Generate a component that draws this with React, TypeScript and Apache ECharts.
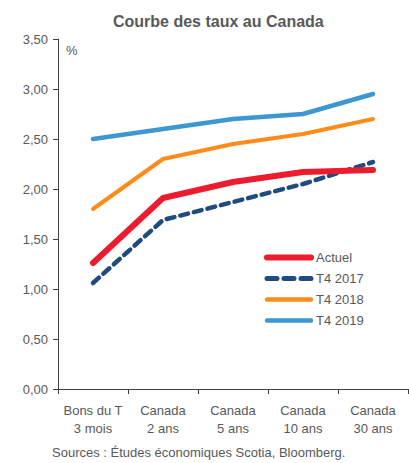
import React, { useEffect, useRef } from "react";
import * as echarts from "echarts";

const categories = ["Bons du T\n3 mois", "Canada\n2 ans", "Canada\n5 ans", "Canada\n10 ans", "Canada\n30 ans"];
const actuel = [1.26, 1.91, 2.07, 2.17, 2.19];
const t42017 = [1.06, 1.69, 1.87, 2.05, 2.27];
const t42018 = [1.8, 2.3, 2.45, 2.55, 2.7];
const t42019 = [2.5, 2.6, 2.7, 2.75, 2.95];

const TXT = "#595959";
const FONT = "'Liberation Sans', Arial, sans-serif";

export default function App() {
  const ref = useRef<HTMLDivElement>(null);
  useEffect(() => {
    document.body.style.margin = "0";
    const chart = echarts.init(ref.current!, undefined, { renderer: "svg" });
    const mk = (name: string, data: number[], color: string, width: number, type: any) => ({
      name,
      type: "line",
      data,
      symbol: "none",
      lineStyle: { color, width, type, cap: "round" },
      itemStyle: { color },
      z: 2,
    });
    chart.setOption({
      animation: false,
      textStyle: { fontFamily: FONT },
      title: {
        text: "Courbe des taux au Canada",
        left: 108,
        top: 8,
        textStyle: { fontSize: 16, fontWeight: "bold", color: TXT, fontFamily: FONT },
      },
      graphic: [
        { type: "text", left: 66, top: 44, style: { text: "%", fontSize: 13, fill: TXT, fontFamily: FONT } },
        {
          type: "text",
          left: 52,
          top: 446,
          style: { text: "Sources : Études économiques Scotia, Bloomberg.", fontSize: 13, fill: TXT, fontFamily: FONT },
        },
      ],
      legend: {
        orient: "vertical",
        left: 259,
        top: 246,
        itemWidth: 44,
        itemHeight: 10,
        itemGap: 8,
        itemStyle: { opacity: 0 },
        lineStyle: { width: "inherit", cap: "round" },
        textStyle: { fontSize: 13, color: TXT, fontFamily: FONT },
        data: [
          { name: "Actuel", lineStyle: { width: 6 } },
          { name: "T4 2017", lineStyle: { width: 5, type: [10, 7] } },
          { name: "T4 2018", lineStyle: { width: 4.5 } },
          { name: "T4 2019", lineStyle: { width: 4.5 } },
        ],
      },
      grid: { left: 58, right: 1, top: 39, bottom: 74 },
      xAxis: {
        type: "category",
        data: categories,
        boundaryGap: true,
        axisLine: { lineStyle: { color: "#404040", width: 1 } },
        axisTick: { show: true, length: 5, interval: 0, lineStyle: { color: "#404040" } },
        axisLabel: { interval: 0, fontSize: 13, color: TXT, lineHeight: 18, margin: 12, fontFamily: FONT },
      },
      yAxis: {
        type: "value",
        min: 0,
        max: 3.5,
        interval: 0.5,
        splitLine: { show: false },
        axisLine: { show: true, lineStyle: { color: "#404040", width: 1 } },
        axisTick: { show: true, length: 5, lineStyle: { color: "#404040" } },
        axisLabel: {
          fontSize: 13,
          color: TXT,
          margin: 10,
          fontFamily: FONT,
          formatter: (v: number) => v.toFixed(2).replace(".", ","),
        },
      },
      series: [
        mk("T4 2019", t42019, "#3D98CF", 4.5, "solid"),
        mk("T4 2018", t42018, "#FF8C1A", 4, "solid"),
        mk("T4 2017", t42017, "#1F4B7E", 4.5, [8, 6]),
        mk("Actuel", actuel, "#EC1C2E", 6, "solid"),
      ],
    });
    return () => chart.dispose();
  }, []);
  return <div ref={ref} style={{ width: 409, height: 463 }} />;
}
